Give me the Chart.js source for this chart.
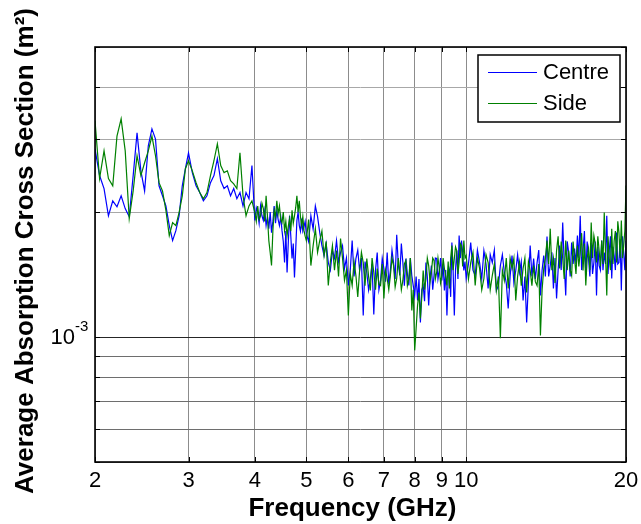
<!DOCTYPE html>
<html>
<head>
<meta charset="utf-8">
<script src="https://cdn.jsdelivr.net/npm/chart.js@4.4.1/dist/chart.umd.min.js"></script>
<style>
html,body{margin:0;padding:0;background:#fff;}
#wrap{width:641px;height:524px;position:relative;}
</style>
</head>
<body>
<div id="wrap"><canvas id="c" width="641" height="524"></canvas></div>
<script>
// ---- data ----
const freqs = [
 2.00,2.04,2.08,2.12,2.16,2.20,2.24,2.28,2.32,2.36,2.40,2.44,2.48,2.52,2.56,2.60,2.64,2.68,2.72,2.76,2.80,2.84,2.88,2.92,2.96,3.00,
 3.05,3.10,3.15,3.20,3.25,3.30,3.35,3.40,3.45,3.50,3.55,3.60,3.65,3.70,3.75,3.80,3.85,3.90,3.95,4.00,
 4.025,4.05,4.075,4.10,4.125,4.15,4.175,4.20,4.225,4.25,4.275,4.30,4.325,4.35,4.375,4.40,4.425,4.45,4.475,4.50,
 4.525,4.55,4.575,4.60,4.625,4.65,4.675,4.70,4.725,4.75,4.775,4.80,4.825,4.85,4.875,4.90,4.925,4.95,4.975,5.00,
 5.05,5.10,5.15,5.20,5.25,5.30,5.35,5.40,5.45,5.50,5.55,5.60,5.65,5.70,5.75,5.80,5.85,5.90,5.95,6.00,
 6.05,6.10,6.15,6.20,6.25,6.30,6.35,6.40,6.45,6.50,6.55,6.60,6.65,6.70,6.75,6.80,6.85,6.90,6.95,7.00,
 7.05,7.10,7.15,7.20,7.25,7.30,7.35,7.40,7.45,7.50,7.55,7.60,7.65,7.70,7.75,7.80,7.85,7.90,7.95,8.00,
 8.05,8.10,8.15,8.20,8.25,8.30,8.35,8.40,8.45,8.50,8.55,8.60,8.65,8.70,8.75,8.80,8.85,8.90,8.95,9.00,
 9.05,9.10,9.15,9.20,9.25,9.30,9.35,9.40,9.45,9.50,9.55,9.60,9.65,9.70,9.75,9.80,9.85,9.90,9.95,10.00,
 10.1,10.2,10.3,10.4,10.5,10.6,10.7,10.8,10.9,11.0,11.1,11.2,11.3,11.4,11.5,11.6,11.7,11.8,11.9,12.0,
 12.1,12.2,12.3,12.4,12.5,12.6,12.7,12.8,12.9,13.0,13.1,13.2,13.3,13.4,13.5,13.6,13.7,13.8,13.9,14.0,
 14.1,14.2,14.3,14.4,14.5,14.6,14.7,14.8,14.9,15.0,15.1,15.2,15.3,15.4,15.5,15.6,15.7,15.8,15.9,16.0,
 16.1,16.2,16.3,16.4,16.5,16.6,16.7,16.8,16.9,17.0,17.1,17.2,17.3,17.4,17.5,17.6,17.7,17.8,17.9,18.0,
 18.1,18.2,18.3,18.4,18.5,18.6,18.7,18.8,18.9,19.0,19.1,19.2,19.3,19.4,19.5,19.6,19.7,19.8,19.9,20.0
];
// values in units of 1e-3 m^2
const UNIT = 1e-3;
const centreE3 = [
 2.84,2.45,2.28,1.96,2.13,2.06,2.19,2.04,1.95,2.45,3.105,2.515,2.25,2.89,3.175,3.00,2.315,2.19,2.07,1.856,1.708,1.805,1.96,2.315,2.545,2.78,
 2.49,2.315,2.23,2.13,2.19,2.355,2.45,2.69,2.38,2.28,2.315,2.19,2.28,2.155,2.23,2.07,2.23,2.155,2.59,1.91,
 2.05,1.995,1.88,2.07,1.96,1.91,2.02,1.856,1.95,1.825,2.00,1.785,1.90,2.07,1.88,2.02,1.92,1.856,1.95,1.805,
 1.70,1.512,1.80,1.431,1.70,1.96,1.75,1.546,1.68,1.392,1.62,1.91,2.00,1.856,1.80,1.93,1.80,1.846,1.90,1.775,
 1.70,1.96,1.82,2.07,1.95,1.785,1.66,1.572,1.68,1.512,1.45,1.616,1.55,1.708,1.52,1.598,1.66,1.463,1.55,1.331,
 1.45,1.708,1.40,1.546,1.62,1.447,1.55,1.128,1.52,1.431,1.30,1.384,1.50,1.134,1.45,1.598,1.30,1.369,1.55,1.463,
 1.36,1.598,1.34,1.447,1.62,1.512,1.38,1.765,1.50,1.407,1.68,1.512,1.33,1.546,1.42,1.331,1.55,1.407,1.33,1.259,
 1.40,1.225,1.38,1.085,1.30,1.331,1.22,1.512,1.40,1.192,1.38,1.487,1.30,1.407,1.55,1.546,1.38,1.447,1.55,1.369,
 1.50,1.295,1.45,1.128,1.40,1.447,1.25,1.689,1.45,1.128,1.45,1.616,1.38,1.756,1.55,1.708,1.60,1.447,1.52,1.384,
 1.50,1.689,1.45,1.407,1.62,1.512,1.38,1.616,1.50,1.31,1.58,1.512,1.62,1.295,1.33,1.487,1.58,1.431,1.35,1.172,
 1.40,1.572,1.35,1.447,1.58,1.431,1.52,1.225,1.40,1.085,1.35,1.661,1.40,1.546,1.38,1.512,1.62,1.259,1.45,1.572,
 1.40,1.746,1.40,1.487,1.60,1.31,1.55,1.239,1.45,1.661,1.45,1.887,1.50,1.259,1.70,1.598,1.40,1.689,1.50,1.634,
 1.50,1.756,1.55,1.96,1.45,1.616,1.80,1.407,1.70,1.546,1.40,1.689,1.42,1.512,1.70,1.259,1.65,1.487,1.45,1.708,
 1.45,1.598,1.50,1.96,1.42,1.616,1.75,1.384,1.65,1.572,1.45,1.785,1.50,1.512,1.72,1.295,1.75,1.598,1.45,1.708
];
const sideE3 = [
 3.32,2.41,2.81,2.41,2.315,3.05,3.355,2.81,1.93,2.25,2.735,2.45,2.63,2.81,3.05,2.735,2.355,2.25,2.02,1.756,1.887,1.856,1.995,2.19,2.545,2.66,
 2.515,2.355,2.23,2.155,2.23,2.45,2.66,2.92,2.59,2.49,2.515,2.38,2.34,2.28,2.78,2.19,1.96,2.07,2.13,1.995,
 1.90,2.07,1.92,1.96,2.10,2.04,1.90,2.19,1.95,1.708,1.60,1.487,1.80,2.02,1.95,2.13,1.98,2.07,1.92,1.887,
 2.00,1.805,1.90,1.756,1.85,1.93,1.80,2.02,1.88,1.96,2.05,2.19,2.00,2.13,1.95,1.856,1.95,1.805,1.75,1.708,
 1.92,1.487,1.66,1.825,1.60,1.708,1.80,1.572,1.70,1.331,1.52,1.661,1.45,1.616,1.40,1.727,1.55,1.369,1.45,1.128,
 1.42,1.331,1.52,1.407,1.25,1.447,1.60,1.512,1.33,1.546,1.40,1.295,1.55,1.431,1.30,1.463,1.34,1.331,1.50,1.239,
 1.45,1.384,1.30,1.407,1.55,1.487,1.32,1.384,1.55,1.431,1.30,1.369,1.50,1.529,1.33,1.384,1.55,1.159,1.30,0.929,
 1.05,1.192,1.28,1.109,1.25,1.447,1.30,1.384,1.55,1.487,1.36,1.431,1.55,1.529,1.38,1.431,1.55,1.463,1.35,1.407,
 1.55,1.463,1.40,1.331,1.52,1.31,1.55,1.661,1.45,1.546,1.65,1.616,1.42,1.512,1.68,1.661,1.48,1.708,1.55,1.572,
 1.38,1.512,1.60,1.331,1.55,1.463,1.30,1.384,1.58,1.512,1.30,1.407,1.50,1.295,1.40,0.993,1.45,1.369,1.55,1.31,
 1.55,1.463,1.55,1.225,1.40,1.512,1.33,1.463,1.55,1.281,1.52,1.447,1.33,1.487,1.36,1.331,1.50,1.009,1.30,1.463,
 1.55,1.708,1.50,1.825,1.45,1.546,1.35,1.616,1.75,1.463,1.70,1.546,1.38,1.708,1.45,1.616,1.45,1.407,1.70,1.546,
 1.42,1.661,1.48,1.598,1.78,1.447,1.68,1.331,1.55,1.634,1.45,1.887,1.55,1.756,1.68,1.512,1.75,1.616,1.48,1.708,
 1.50,1.995,1.60,1.259,1.75,1.546,1.45,1.825,1.50,1.708,1.80,1.512,1.90,1.785,1.55,1.91,1.55,1.661,1.80,2.32
];
const seriesNames = ['Centre', 'Side'];
const xTicks = [2,3,4,5,6,7,8,9,10,20];
const xTickLabels = ['2','3','4','5','6','7','8','9','10','20'];
const yTicks = [5e-4,6e-4,7e-4,8e-4,9e-4,1e-3,2e-3,3e-3,4e-3,5e-3];
const yLabelledTick = 1e-3;
const xTitle = 'Frequency (GHz)';
const yTitle = 'Average Absorption Cross Section (m\u00B2)';

// ---- build ----
const toPts = arr => freqs.map((f, i) => ({x: f, y: arr[i] * UNIT}));
const FONT = '"Liberation Sans", Arial, sans-serif';

const decor = {
  id: 'decor',
  afterDatasetsDraw(chart) {
    const ctx = chart.ctx, a = chart.chartArea;
    const xs = chart.scales.x, ys = chart.scales.y;
    ctx.save();
    ctx.strokeStyle = '#000'; ctx.lineWidth = 1;
    ctx.beginPath();
    xTicks.forEach(v => {
      const px = Math.round(xs.getPixelForValue(v)) + 0.5;
      ctx.moveTo(px, a.bottom); ctx.lineTo(px, a.bottom - 5);
      ctx.moveTo(px, a.top); ctx.lineTo(px, a.top + 5);
    });
    yTicks.forEach(v => {
      const py = Math.round(ys.getPixelForValue(v)) + 0.5;
      ctx.moveTo(a.left, py); ctx.lineTo(a.left + 5, py);
      ctx.moveTo(a.right, py); ctx.lineTo(a.right - 5, py);
    });
    ctx.stroke();
    ctx.lineWidth = 1.6;
    ctx.strokeRect(a.left, a.top, a.right - a.left, a.bottom - a.top);
    ctx.fillStyle = '#000';
    ctx.font = '22px ' + FONT;
    ctx.textAlign = 'center'; ctx.textBaseline = 'middle';
    xTicks.forEach((v, i) => {
      ctx.fillText(xTickLabels[i], xs.getPixelForValue(v), a.bottom + 19);
    });
    const py = ys.getPixelForValue(yLabelledTick);
    ctx.textAlign = 'right';
    ctx.fillText('10', a.left - 20, py + 1);
    ctx.font = '15px ' + FONT;
    ctx.textAlign = 'left';
    ctx.fillText('-3', a.left - 20, py - 10);
    ctx.font = 'bold 26px ' + FONT;
    ctx.textAlign = 'center';
    ctx.fillText(xTitle, (a.left + a.right) / 2 - 8, a.bottom + 47);
    ctx.save();
    ctx.translate(26, 251);
    ctx.rotate(-Math.PI / 2);
    ctx.fillText(yTitle, 0, 0);
    ctx.restore();
    const lx = 478, ly = 55, lw = 142, lh = 67;
    ctx.fillStyle = '#fff';
    ctx.fillRect(lx, ly, lw, lh);
    ctx.strokeStyle = '#000'; ctx.lineWidth = 1.5;
    ctx.strokeRect(lx, ly, lw, lh);
    ctx.font = '22px ' + FONT;
    ctx.textAlign = 'left'; ctx.textBaseline = 'middle';
    chart.data.datasets.forEach((ds, i) => {
      const yy = ly + 17 + i * 31;
      ctx.strokeStyle = ds.borderColor; ctx.lineWidth = 1;
      ctx.beginPath(); ctx.moveTo(lx + 10, yy + 0.5); ctx.lineTo(lx + 59, yy + 0.5); ctx.stroke();
      ctx.fillStyle = '#000';
      ctx.fillText(ds.label, lx + 65, yy + 1);
    });
    ctx.restore();
  }
};

new Chart(document.getElementById('c'), {
  type: 'line',
  data: {
    datasets: [
      {label: seriesNames[0], data: toPts(centreE3), borderColor: '#0000ff', borderWidth: 1.2, pointRadius: 0, tension: 0, order: 1},
      {label: seriesNames[1], data: toPts(sideE3), borderColor: '#008000', borderWidth: 1.2, pointRadius: 0, tension: 0, order: 0}
    ]
  },
  options: {
    responsive: false,
    animation: false,
    devicePixelRatio: 1,
    layout: {padding: {left: 95, right: 15, top: 47, bottom: 62}},
    plugins: {legend: {display: false}, tooltip: {enabled: false}},
    scales: {
      x: {
        type: 'logarithmic', min: 2, max: 20,
        afterBuildTicks: s => { s.ticks = xTicks.map(v => ({value: v})); },
        ticks: {display: false},
        border: {display: false},
        grid: {drawTicks: false, color: '#8c8c8c', lineWidth: 1}
      },
      y: {
        type: 'logarithmic', min: 5e-4, max: 5e-3,
        afterBuildTicks: s => { s.ticks = yTicks.map(v => ({value: v})); },
        ticks: {display: false},
        border: {display: false},
        grid: {
          drawTicks: false, lineWidth: 1,
          color: c => (Math.abs(c.tick.value - 1e-3) < 1e-9 ? '#262626' : (c.tick.value < 1e-3 ? '#6e6e6e' : '#a8a8a8'))
        }
      }
    }
  },
  plugins: [decor]
});
</script>
</body>
</html>
